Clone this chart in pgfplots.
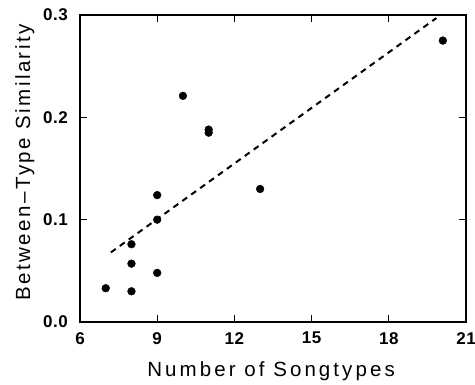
\documentclass[border=0pt]{standalone}
\usepackage{fontspec}
\setmainfont{Liberation Sans}
\newfontfamily\xlabfont[LetterSpace=15]{Liberation Sans}
\newfontfamily\ylabfont[LetterSpace=12]{Liberation Sans}
\newfontfamily\ticfont[LetterSpace=3]{Liberation Sans}
\usepackage{pgfplots}
\pgfplotsset{compat=1.18}

\begin{document}
\begin{tikzpicture}
\path[use as bounding box] (-80pt,-63pt) rectangle (395pt,322pt);
\begin{axis}[
  at={(0pt,0pt)}, anchor=south west,
  scale only axis, width=386pt, height=307pt,
  xmin=6, xmax=21, ymin=0, ymax=0.3,
  xtick={6,9,...,21}, ytick={0,0.1,0.2,0.3},
  tick align=inside, major tick length=7pt,
  axis line style={line width=1.7pt},
  tick style={line width=1.3pt, black},
  /pgf/number format/assume math mode=true,
  ticklabel style={font=\ticfont\bfseries\fontsize{17}{17}\selectfont, inner sep=0pt},
  yticklabel style={/pgf/number format/fixed, /pgf/number format/fixed zerofill,
                    /pgf/number format/precision=1, xshift=-12pt},
  xticklabel style={yshift=-10pt},
  xlabel={Number of Songtypes},
  ylabel={Between\textendash Type Similarity},
  xlabel style={font=\xlabfont\fontsize{20.5}{20.5}\selectfont,
                at={(axis description cs:0.495,-0.179)}, anchor=base},
  ylabel style={font=\ylabfont\fontsize{20.5}{20.5}\selectfont,
                at={(axis description cs:-0.1295,0.52)}, anchor=base},
]
\addplot[only marks, mark=*, mark size=3.9pt, black] table {
x y
7 0.033
8 0.030
8 0.057
8 0.076
9 0.048
9 0.100
9 0.124
10 0.221
11 0.188
11 0.185
13 0.130
20.1 0.275
};
% least-squares fit
\addplot[black, line width=2pt, dash pattern=on 6pt off 5pt] coordinates {(7.2,0.068) (19.85,0.297)};
\end{axis}
\end{tikzpicture}
\end{document}
